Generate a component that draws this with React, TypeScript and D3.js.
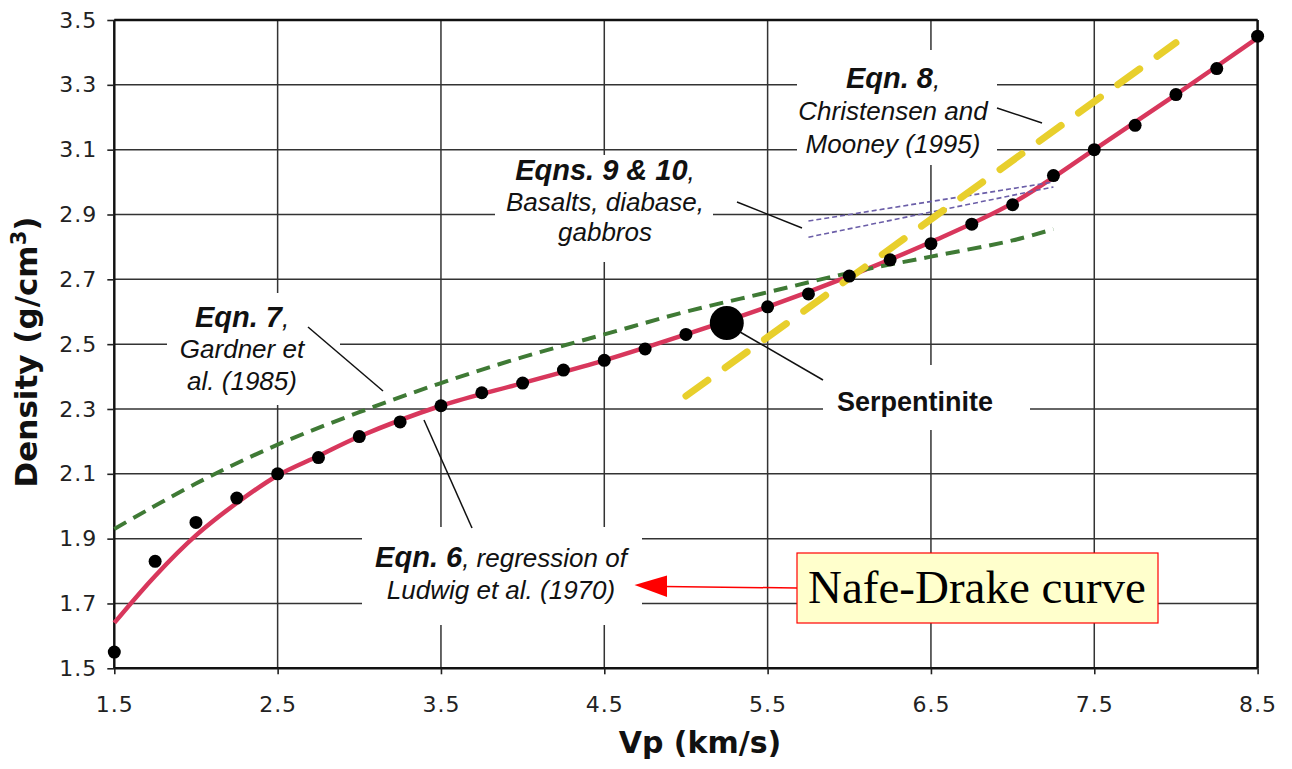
import React, { useEffect, useRef } from "react";
import * as d3 from "d3";

const W = 1292;
const H = 769;
const left = 114.3, right = 1257.6, top = 20, bottom = 668.3;

const xTicks = [1.5, 2.5, 3.5, 4.5, 5.5, 6.5, 7.5, 8.5];
const yTicks = [1.5, 1.7, 1.9, 2.1, 2.3, 2.5, 2.7, 2.9, 3.1, 3.3, 3.5];

// Nafe-Drake points
const ndVp = [1.5, 1.75, 2, 2.25, 2.5, 2.75, 3, 3.25, 3.5, 3.75, 4, 4.25, 4.5, 4.75, 5, 5.5, 5.75, 6, 6.25, 6.5, 6.75, 7, 7.25, 7.5, 7.75, 8, 8.25, 8.5];
const ndRho = [1.55, 1.83, 1.95, 2.025, 2.1, 2.15, 2.215, 2.26, 2.31, 2.35, 2.38, 2.42, 2.45, 2.485, 2.53, 2.615, 2.655, 2.71, 2.76, 2.81, 2.87, 2.93, 3.02, 3.1, 3.175, 3.27, 3.35, 3.45];

// serpentinite
const serpVp = [5.25];
const serpRho = [2.565];

// Eqn 6 (Ludwig regression), red
const eq6Vp = [1.5, 1.75, 2, 2.25, 2.5, 2.75, 3, 3.5, 4, 4.5, 5, 5.5, 6, 6.5, 7, 7.5, 8, 8.5];
const eq6Rho = [1.64, 1.785, 1.91, 2.01, 2.095, 2.155, 2.215, 2.31, 2.38, 2.45, 2.53, 2.615, 2.71, 2.815, 2.935, 3.1, 3.27, 3.445];

// Eqn 7 (Gardner), green dashed
const eq7Vp = [1.5, 2, 2.5, 3, 3.5, 4, 4.5, 5, 5.5, 6, 6.5, 7, 7.25];
const eq7Rho = [1.93, 2.07, 2.19, 2.29, 2.38, 2.46, 2.53, 2.6, 2.66, 2.72, 2.77, 2.82, 2.855];

// Eqn 8 (Christensen & Mooney), yellow dashed
const eq8Vp = [5.0, 8.0];
const eq8Rho = [2.34, 3.43];

// Eqns 9 & 10, purple dotted
const eq9Vp = [5.75, 7.25];
const eq9Rho = [2.88, 3.0];
const eq10Vp = [5.75, 7.25];
const eq10Rho = [2.83, 2.985];

const sans = "'Liberation Sans', Arial, Helvetica, sans-serif";
const verd = "'DejaVu Sans', Verdana, sans-serif";

// label blocks: [bold part, rest] per line, with baselines
const notes = [
  { x: 893, ys: [88, 120, 153], lines: [["Eqn. 8", ","], ["", "Christensen and"], ["", "Mooney (1995)"]] },
  { x: 605, ys: [180, 211, 241], lines: [["Eqns. 9 & 10", ","], ["", "Basalts, diabase,"], ["", "gabbros"]] },
  { x: 242, ys: [327, 358, 390], lines: [["Eqn. 7", ","], ["", "Gardner et"], ["", "al. (1985)"]] },
  { x: 501, ys: [567, 599], lines: [["Eqn. 6", ", regression of"], ["", "Ludwig et al. (1970)"]] },
];

// white boxes that cut the grid behind labels
const blanks = [
  [797, 50, 200, 115],
  [495, 155, 218, 107],
  [167, 293, 173, 112],
  [362, 527, 280, 98],
  [823, 365, 207, 65],
];

const leaders = [
  [997, 108, 1042, 123],
  [737, 202, 802, 228],
  [308, 327, 383, 391],
  [424, 420, 472, 528],
  [740, 332, 823, 380],
];

export default function App() {
  const gx = useRef<SVGGElement>(null);
  const gy = useRef<SVGGElement>(null);

  const x = d3.scaleLinear([1.5, 8.5], [left, right]);
  const y = d3.scaleLinear([1.5, 3.5], [bottom, top]);

  const mk = (xs: number[], ys: number[], curve = d3.curveCatmullRom) =>
    d3.line<number>((d) => x(d), (d, i) => y(ys[i])).curve(curve)(xs) || "";

  useEffect(() => {
    const ax = d3.select(gx.current!);
    ax.call(d3.axisBottom(x).tickValues(xTicks).tickSize(6).tickPadding(22.5).tickFormat(d3.format(".1f")));
    ax.select(".domain").remove();
    ax.selectAll("line").attr("stroke", "#222").attr("stroke-width", 1.6);
    ax.selectAll("text").attr("font-family", verd).attr("font-size", 22).attr("letter-spacing", 1).attr("fill", "#222");

    const ay = d3.select(gy.current!);
    ay.call(d3.axisLeft(y).tickValues(yTicks).tickSize(7).tickPadding(10).tickFormat(d3.format(".1f")));
    ay.select(".domain").remove();
    ay.selectAll("line").attr("stroke", "#222").attr("stroke-width", 1.6);
    ay.selectAll("text").attr("font-family", verd).attr("font-size", 22).attr("letter-spacing", 1).attr("fill", "#222");
  }, []);

  return (
    <svg width={W} height={H} style={{ position: "absolute", left: 0, top: 0, background: "#fff" }}>
      <rect width={W} height={H} fill="#fff" />
      {/* grid */}
      <g stroke="#333" strokeWidth={1.5}>
        {yTicks.map((t) => (
          <line key={"h" + t} x1={left} x2={right} y1={y(t)} y2={y(t)} />
        ))}
        {xTicks.map((t) => (
          <line key={"v" + t} x1={x(t)} x2={x(t)} y1={top} y2={bottom} />
        ))}
      </g>
      {/* frame */}
      <g stroke="#111" strokeWidth={2.4} fill="none">
        <line x1={left} x2={right} y1={top} y2={top} />
        <line x1={left} x2={right} y1={bottom} y2={bottom} />
        <line x1={left} x2={left} y1={top} y2={bottom} />
        <line x1={right} x2={right} y1={top} y2={bottom} />
      </g>
      <g ref={gx} transform={`translate(0,${bottom})`} />
      <g ref={gy} transform={`translate(${left},0)`} />

      {blanks.map((b, i) => (
        <rect key={i} x={b[0]} y={b[1]} width={b[2]} height={b[3]} fill="#fff" />
      ))}

      {/* curves */}
      <path d={mk(eq6Vp, eq6Rho)} fill="none" stroke="#d8375c" strokeWidth={4.5} />
      <path d={mk(eq7Vp, eq7Rho)} fill="none" stroke="#3f7a35" strokeWidth={4} strokeDasharray="14 8" />
      <path d={mk(eq9Vp, eq9Rho, d3.curveLinear)} fill="none" stroke="#6b5ea8" strokeWidth={1.6} strokeDasharray="5 3" />
      <path d={mk(eq10Vp, eq10Rho, d3.curveLinear)} fill="none" stroke="#6b5ea8" strokeWidth={1.6} strokeDasharray="5 3" />
      <path d={mk(eq8Vp, eq8Rho, d3.curveLinear)} fill="none" stroke="#e8cf2c" strokeWidth={7} strokeLinecap="round" strokeDasharray="27 21.4" />

      {/* points */}
      <g fill="#000">
        {ndVp.map((v, i) => (
          <circle key={i} cx={x(v)} cy={y(ndRho[i])} r={6.5} />
        ))}
        {serpVp.map((v, i) => (
          <circle key={"s" + i} cx={x(v)} cy={y(serpRho[i])} r={17} />
        ))}
      </g>

      {/* leaders */}
      <g stroke="#111" strokeWidth={1.5}>
        {leaders.map((l, i) => (
          <line key={i} x1={l[0]} y1={l[1]} x2={l[2]} y2={l[3]} />
        ))}
      </g>

      {/* labels */}
      <g fontFamily={sans} fontStyle="italic" fontSize={26} fill="#111" textAnchor="middle">
        {notes.map((n, i) =>
          n.lines.map((ln, j) => (
            <text key={i + "-" + j} x={n.x} y={n.ys[j]}>
              {ln[0] ? <tspan fontWeight="bold" fontSize={29}>{ln[0]}</tspan> : null}
              {ln[1]}
            </text>
          ))
        )}
      </g>
      <text x={915} y={411} fontFamily={sans} fontWeight="bold" fontSize={27} textAnchor="middle" fill="#111">
        Serpentinite
      </text>

      {/* axis titles */}
      <text x={700} y={753} fontFamily={verd} fontWeight="bold" fontSize={30} textAnchor="middle" fill="#111">
        Vp (km/s)
      </text>
      <text transform="translate(37,352) rotate(-90)" fontFamily={verd} fontWeight="bold" fontSize={31} textAnchor="middle" fill="#111">
        Density (g/cm<tspan fontSize={21} dy={-11}>3</tspan><tspan dy={11}>)</tspan>
      </text>

      {/* Nafe-Drake callout */}
      <line x1={797} y1={588} x2={664} y2={586.5} stroke="#ff0000" strokeWidth={1.5} />
      <polygon points="634.5,585 667,575.5 667,597" fill="#ff0000" />
      <rect x={797} y={553} width={361} height={70} fill="#ffffcc" stroke="#ff0000" strokeWidth={1.2} />
      <text x={977} y={603} fontFamily="'Liberation Serif', 'Times New Roman', serif" fontSize={47} textAnchor="middle" fill="#000">
        Nafe-Drake curve
      </text>
    </svg>
  );
}
